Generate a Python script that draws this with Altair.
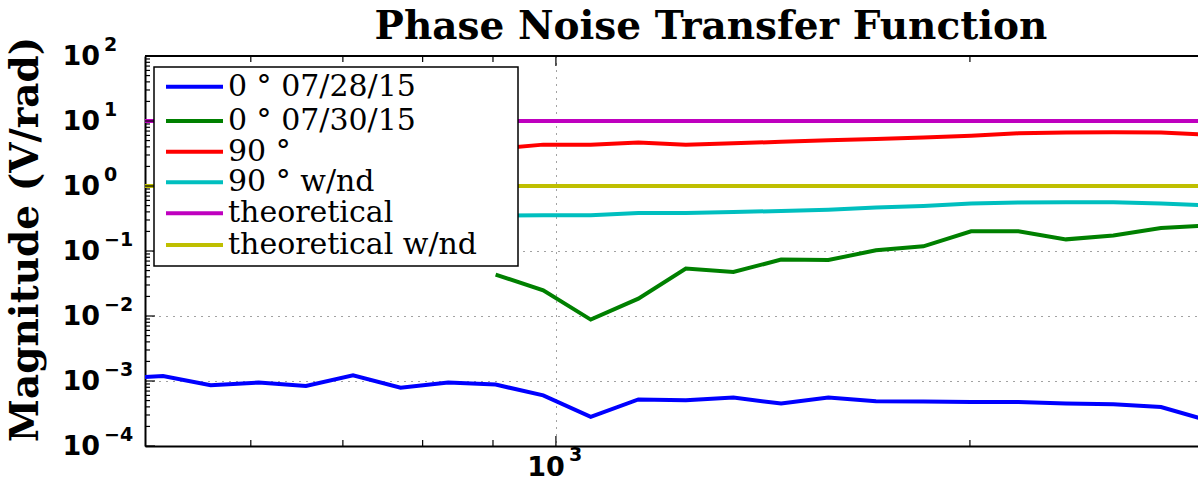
import altair as alt
import pandas as pd

# Frequency grid (Hz) shared by the measured curves
freq_all = [479, 518, 561, 608, 658, 712, 771, 835, 904, 979, 1060, 1148,
            1243, 1346, 1458, 1578, 1709, 1850, 2004, 2169, 2349, 2543, 2754, 2982]
freq_late = [904, 979, 1060, 1148, 1243, 1346, 1458, 1578, 1709, 1850,
             2004, 2169, 2349, 2543, 2754, 2982]
freq_span = [479, 2982]

# Magnitudes (V/rad)
mag_0728 = [1.10e-3, 1.19e-3, 8.6e-4, 9.45e-4, 8.4e-4, 1.22e-3, 7.9e-4, 9.45e-4,
            8.8e-4, 6.0e-4, 2.8e-4, 5.2e-4, 5.05e-4, 5.55e-4, 4.5e-4, 5.55e-4,
            4.9e-4, 4.83e-4, 4.75e-4, 4.75e-4, 4.5e-4, 4.38e-4, 3.98e-4, 2.46e-4]
mag_0730 = [0.0434, 0.0248, 0.0088, 0.0185, 0.0536, 0.0475, 0.0738, 0.0725,
            0.1026, 0.118, 0.201, 0.201, 0.151, 0.173, 0.226, 0.248]
mag_90 = [3.71, 4.33, 4.33, 4.65, 4.33, 4.54, 4.79, 5.05, 5.29, 5.56, 5.92,
          6.47, 6.63, 6.70, 6.63, 6.13]
mag_90_nd = [0.351, 0.354, 0.354, 0.384, 0.384, 0.398, 0.413, 0.433, 0.465,
             0.492, 0.536, 0.556, 0.561, 0.561, 0.536, 0.505]
mag_theory = [10.0, 10.0]
mag_theory_nd = [1.0, 1.0]

series_names = ["0 ° 07/28/15", "0 ° 07/30/15", "90 °", "90 ° w/nd",
                "theoretical", "theoretical w/nd"]
series_colors = ["#0000ff", "#008000", "#ff0000", "#00bfbf", "#bf00bf", "#bfbf00"]

# Axis tick positions and labels (base 10 with a raised exponent)
y_major = [1e-4, 1e-3, 1e-2, 1e-1, 1e0, 1e1, 1e2]
y_exponents = ["−4", "−3", "−2", "−1", "0", "1", "2"]
y_minor = [m * d for d in [1e-4, 1e-3, 1e-2, 1e-1, 1e0, 1e1] for m in range(2, 10)]
x_major = [1000]
x_exponents = ["3"]
x_minor = [600, 700, 800, 900, 2000]

title_text = "Phase Noise Transfer Function"
y_title = "Magnitude (V/rad)"

rows = []
for name, fr, vals in [
    (series_names[0], freq_all, mag_0728),
    (series_names[1], freq_late, mag_0730),
    (series_names[2], freq_late, mag_90),
    (series_names[3], freq_late, mag_90_nd),
    (series_names[4], freq_span, mag_theory),
    (series_names[5], freq_span, mag_theory_nd),
]:
    for f, v in zip(fr, vals):
        rows.append({"series": name, "freq": f, "mag": v})
df = pd.DataFrame(rows)

W, H = 1053, 390
xscale = alt.Scale(type="log", domain=[502.6, 2930], nice=False)
yscale = alt.Scale(type="log", domain=[1e-4, 1e2], nice=False)

sans = "DejaVu Sans"
serif = "DejaVu Serif"

x_axis = alt.Axis(
    orient="bottom", values=x_major, labels=False, ticks=False,
    domain=True, domainColor="black", domainWidth=2, grid=True, gridColor="#444",
    gridDash=[1, 6], gridWidth=1, title="")
y_axis = alt.Axis(
    orient="left", values=y_major, labels=False, ticks=False,
    domain=True, domainColor="black", domainWidth=2,
    grid=True, gridColor="#444", gridDash=[1, 6], gridWidth=1,
    title=y_title, titleFont=serif, titleFontWeight="bold",
    titleFontSize=39, titleColor="black", titleAngle=270, titleX=-120,
    titleY=183, titleAlign="center", titleBaseline="middle")

lines = alt.Chart(df).mark_line(strokeWidth=4, clip=True).encode(
    x=alt.X("freq:Q", scale=xscale, axis=x_axis),
    y=alt.Y("mag:Q", scale=yscale, axis=y_axis),
    color=alt.Color("series:N", sort=series_names,
                    scale=alt.Scale(domain=series_names, range=series_colors),
                    legend=None),
)

# Inward-facing tick marks along the frame
ymaj_df = pd.DataFrame({"v": y_major, "exp": y_exponents})
ymin_df = pd.DataFrame({"v": y_minor})
xmaj_df = pd.DataFrame({"v": x_major, "exp": x_exponents})
xmin_df = pd.DataFrame({"v": x_minor})


def ytick(data, length):
    return alt.Chart(data).mark_rule(color="black", strokeWidth=1.2).encode(
        y=alt.Y("v:Q", scale=yscale, axis=y_axis), x=alt.value(0), x2=alt.value(length))


def xtick(data, length, top):
    y0 = 0 if top else H
    y1 = length if top else H - length
    return alt.Chart(data).mark_rule(color="black", strokeWidth=1.2).encode(
        x=alt.X("v:Q", scale=xscale, axis=x_axis), y=alt.value(y0), y2=alt.value(y1))


top_frame = alt.Chart(ymaj_df).mark_rule(color="black", strokeWidth=2).encode(
    x=alt.value(0), x2=alt.value(W), y=alt.value(0))

# Tick labels: "10" plus a superscript exponent
y_base = alt.Chart(ymaj_df).mark_text(
    font=sans, fontWeight="bold", fontSize=27, color="black",
    align="right", baseline="middle", dy=1).encode(
    y=alt.Y("v:Q", scale=yscale, axis=y_axis), x=alt.value(-45), text=alt.value("10"))
y_exp = alt.Chart(ymaj_df).mark_text(
    font=sans, fontWeight="bold", fontSize=19, color="black",
    align="left", baseline="middle", dy=-11).encode(
    y=alt.Y("v:Q", scale=yscale, axis=y_axis), x=alt.value(-41), text="exp:N")
x_base = alt.Chart(xmaj_df).mark_text(
    font=sans, fontWeight="bold", fontSize=27, color="black",
    align="right", baseline="middle", dx=9).encode(
    x=alt.X("v:Q", scale=xscale, axis=x_axis), y=alt.value(H + 22), text=alt.value("10"))
x_exp = alt.Chart(xmaj_df).mark_text(
    font=sans, fontWeight="bold", fontSize=19, color="black",
    align="left", baseline="middle", dx=13).encode(
    x=alt.X("v:Q", scale=xscale, axis=x_axis), y=alt.value(H + 9), text="exp:N")

title = alt.Chart(ymaj_df.head(1)).mark_text(
    font=serif, fontWeight="bold", fontSize=39, color="black",
    align="center", baseline="alphabetic").encode(
    x=alt.value(566), y=alt.value(-17), text=alt.value(title_text))

# Legend box drawn on top of the curves
one = pd.DataFrame({"k": [0]})
legend_layers = [
    alt.Chart(one).mark_rect(fill="white", stroke="black", strokeWidth=1.5).encode(
        x=alt.value(9), x2=alt.value(373), y=alt.value(11), y2=alt.value(210))
]
legend_rows_y = [30.7, 65, 95.7, 126.3, 157.3, 189]
for name, col, ly in zip(series_names, series_colors, legend_rows_y):
    legend_layers.append(alt.Chart(one).mark_rule(color=col, strokeWidth=4).encode(
        x=alt.value(21), x2=alt.value(78), y=alt.value(ly)))
    legend_layers.append(alt.Chart(one).mark_text(
        font=serif, fontSize=30, color="black", align="left", baseline="middle").encode(
        x=alt.value(83), y=alt.value(ly), text=alt.value(name)))

chart = alt.layer(
    lines,
    ytick(ymaj_df, 10), ytick(ymin_df, 5),
    xtick(xmaj_df, 10, False), xtick(xmin_df, 6, False),
    xtick(xmaj_df, 10, True), xtick(xmin_df, 6, True),
    top_frame, y_base, y_exp, x_base, x_exp, title,
    *legend_layers,
).properties(
    width=W, height=H,
    padding={"left": 145, "top": 56, "right": 0, "bottom": 50},
    autosize=alt.AutoSizeParams(type="none"),
    background="white",
).configure_view(stroke="transparent")

chart.save("out.html", embed_options={"renderer": "svg", "actions": False})
